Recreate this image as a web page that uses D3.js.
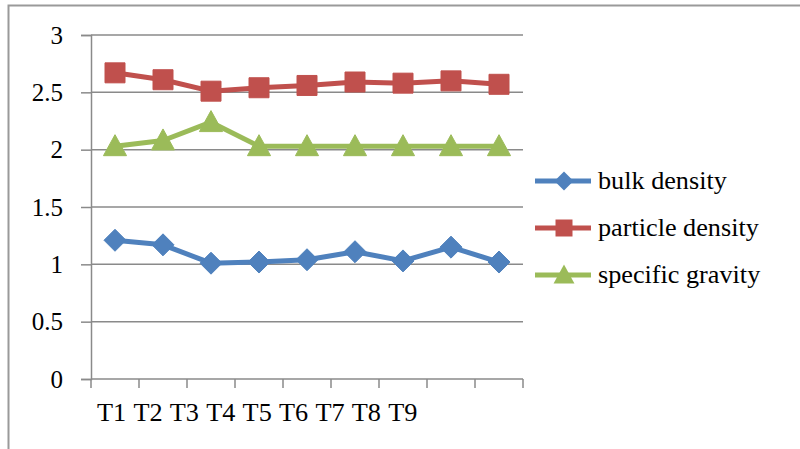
<!DOCTYPE html>
<html>
<head>
<meta charset="utf-8">
<script src="https://cdn.jsdelivr.net/npm/d3@7/dist/d3.min.js"></script>
<style>
  html, body { margin: 0; padding: 0; background: #fff; }
  svg { display: block; }
  text { font-family: "Liberation Serif", "Times New Roman", serif; fill: #000; }
</style>
</head>
<body>
<svg id="chart" width="800" height="449"></svg>
<script>
// Soil physical properties per treatment
const categories = ["T1", "T2", "T3", "T4", "T5", "T6", "T7", "T8", "T9"];
const bulkDensity = [1.21, 1.17, 1.01, 1.02, 1.04, 1.11, 1.03, 1.15, 1.02];
const particleDensity = [2.67, 2.61, 2.51, 2.54, 2.56, 2.59, 2.58, 2.60, 2.57];
const specificGravity = [2.03, 2.08, 2.24, 2.03, 2.03, 2.03, 2.03, 2.03, 2.03];
const yTicks = [0, 0.5, 1, 1.5, 2, 2.5, 3];
const seriesNames = ["bulk density", "particle density", "specific gravity"];

const series = [
  { name: seriesNames[0], values: bulkDensity, color: "#4F81BD", symbol: "diamond" },
  { name: seriesNames[1], values: particleDensity, color: "#C0504D", symbol: "square" },
  { name: seriesNames[2], values: specificGravity, color: "#9BBB59", symbol: "triangle" }
];

const svg = d3.select("#chart");
const gridColor = "#8a8a8a";
const textStretch = 1.07;
const fontSize = 24.5;

// outer frame (open on the right and bottom)
svg.append("path")
  .attr("d", "M8.5,449 V5.5 H800")
  .attr("fill", "none")
  .attr("stroke", "#9a9a9a")
  .attr("stroke-width", 2);

const plot = { left: 91, right: 523, top: 35, bottom: 379 };

const x = d3.scaleBand().domain(categories).range([plot.left, plot.right]);
const y = d3.scaleLinear().domain([0, 3]).range([plot.bottom, plot.top]);

// horizontal gridlines
svg.append("g").selectAll("line").data(yTicks.filter(v => v > 0)).join("line")
  .attr("x1", plot.left).attr("x2", plot.right)
  .attr("y1", d => y(d)).attr("y2", d => y(d))
  .attr("stroke", gridColor).attr("stroke-width", 1.5);

// y axis
const yAxis = svg.append("g")
  .attr("transform", `translate(${plot.left},0)`)
  .call(d3.axisLeft(y).tickValues(yTicks).tickSize(10).tickPadding(0).tickFormat(d3.format("")));
yAxis.select(".domain").attr("stroke", gridColor).attr("stroke-width", 1.5);
yAxis.selectAll(".tick line").attr("stroke", gridColor).attr("stroke-width", 1.5);
yAxis.selectAll(".tick text").remove();

// y tick labels, right aligned
svg.append("g").selectAll("text").data(yTicks).join("text")
  .attr("x", 63)
  .attr("y", d => y(d) + 8.5)
  .attr("text-anchor", "end")
  .attr("font-size", 25)
  .text(d => d3.format("")(d));

// x axis with ticks at band boundaries
const xBounds = categories.map(c => x(c)).concat([plot.right]);
svg.append("line")
  .attr("x1", plot.left).attr("x2", plot.right)
  .attr("y1", plot.bottom).attr("y2", plot.bottom)
  .attr("stroke", gridColor).attr("stroke-width", 1.5);
svg.append("g").selectAll("line").data(xBounds).join("line")
  .attr("x1", d => d).attr("x2", d => d)
  .attr("y1", plot.bottom).attr("y2", plot.bottom + 9)
  .attr("stroke", gridColor).attr("stroke-width", 1.5);

// category labels packed together in one row under the axis
const labelStep = 36.4;
svg.append("g").selectAll("g").data(categories).join("g")
  .attr("transform", (d, i) => `translate(${x(categories[0]) + 6 + i * labelStep},421) scale(1.05,1)`)
  .append("text")
  .attr("font-size", 25)
  .text(d => d);

// marker shapes
function symbolPath(kind, s) {
  if (kind === "square") {
    return `M${-s / 2},${-s / 2}h${s}v${s}h${-s}Z`;
  }
  if (kind === "diamond") {
    const h = s / 2;
    return `M0,${-h}L${h},0L0,${h}L${-h},0Z`;
  }
  const w = s * 0.55, t = s * 0.55, b = s * 0.45;
  return `M0,${-t}L${w},${b}L${-w},${b}Z`;
}
const markerSize = { square: 20, diamond: 22, triangle: 21 };

const line = d3.line()
  .x((d, i) => x(categories[i]) + x.bandwidth() / 2)
  .y(d => y(d));

series.forEach(s => {
  const g = svg.append("g");
  g.append("path")
    .attr("d", line(s.values))
    .attr("fill", "none")
    .attr("stroke", s.color)
    .attr("stroke-width", 5)
    .attr("stroke-linejoin", "round");
  g.selectAll("path.mk").data(s.values).join("path")
    .attr("class", "mk")
    .attr("transform", (d, i) => `translate(${x(categories[i]) + x.bandwidth() / 2},${y(d)})`)
    .attr("d", symbolPath(s.symbol, markerSize[s.symbol]))
    .attr("fill", s.color)
    .attr("stroke", s.color)
    .attr("stroke-width", 1);
});

// legend
const legendY = [181, 228, 275];
const legend = svg.append("g").selectAll("g").data(series).join("g")
  .attr("transform", (d, i) => `translate(535,${legendY[i]})`);
legend.append("line")
  .attr("x1", 0).attr("x2", 56)
  .attr("stroke", d => d.color).attr("stroke-width", 5);
legend.append("path")
  .attr("transform", "translate(29,0)")
  .attr("d", d => symbolPath(d.symbol, d.symbol === "square" ? 17 : 19))
  .attr("fill", d => d.color);
legend.append("g")
  .attr("transform", `translate(63,8) scale(${textStretch},1)`)
  .append("text")
  .attr("font-size", fontSize)
  .text(d => d.name);
</script>
</body>
</html>
